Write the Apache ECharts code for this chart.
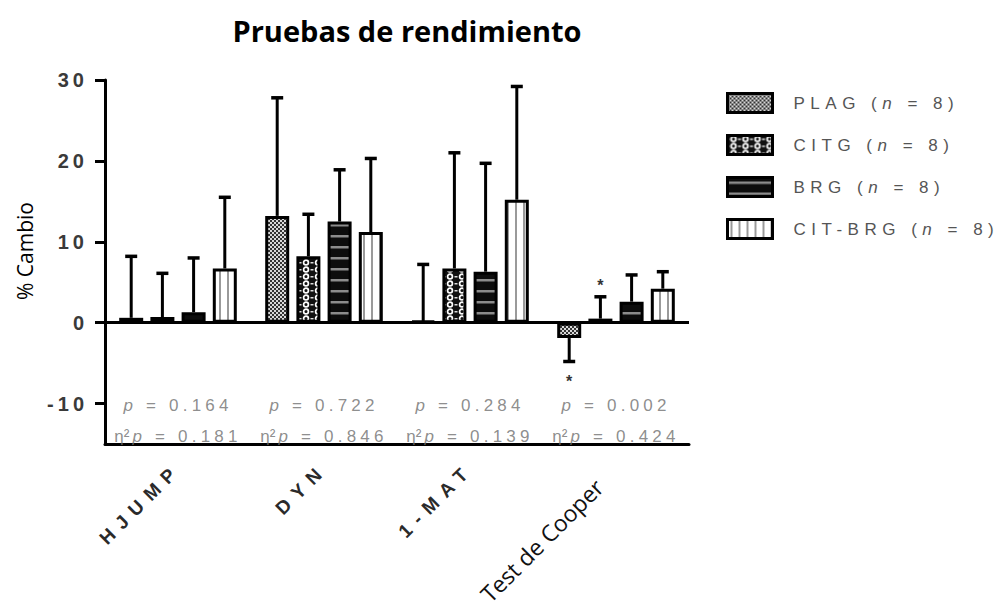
<!DOCTYPE html>
<html>
<head>
<meta charset="utf-8">
<script src="https://cdn.jsdelivr.net/npm/echarts@6/dist/echarts.min.js"></script>
<style>
  html, body { margin: 0; padding: 0; background: #fff; }
  #chart { width: 1002px; height: 613px; }
  #chart text { white-space: pre; }
  /* wide tracking for the Arial-style labels */
  #chart text[style*="Arial"][style*="20px"] { letter-spacing: 4px; }
  #chart text[style*="Arial"][style*="19px"] { letter-spacing: 8px; }
  #chart text[style*="Helvetica"] { letter-spacing: 5.5px; }
  #chart text[style*="Arimo"] { letter-spacing: 4.2px; }
</style>
</head>
<body>
<div id="chart"></div>
<script>
// ---- data -------------------------------------------------------------
const categories = ['HJUMP', 'DYN', '1-MAT', 'Test de Cooper'];
const groups = ['PLAG', 'CITG', 'BRG', 'CIT-BRG'];
const groupN = [8, 8, 8, 8];

// mean % change per test
const meanPLAG   = [0.6, 13.2, 0.2, -1.9];
const meanCITG   = [0.7,  8.2, 6.7,  0.5];
const meanBRG    = [1.3, 12.5, 6.3,  2.6];
const meanCITBRG = [6.7, 11.2, 15.2, 4.2];

// standard deviation per test
const sdPLAG   = [7.6, 14.6,  7.0, 2.9];
const sdCITG   = [5.4,  5.2, 14.3, 2.7];
const sdBRG    = [6.7,  6.4, 13.4, 3.3];
const sdCITBRG = [8.8,  9.1, 14.0, 2.1];

const pValues   = ['0.164', '0.722', '0.284', '0.002'];
const etaValues = ['0.181', '0.846', '0.139', '0.424'];

// [test index, group index] pairs marked with an asterisk
const significant = [[3, 0], [3, 1]];

const yTicks = [-10, 0, 10, 20, 30];

// ---- style constants ----------------------------------------------------
const BAR_W = 24, BAR_GAP = 0.3, BAR_STEP = BAR_W * (1 + BAR_GAP), CAP_W = 12;
const P_ROW = -10.2, ETA_ROW = -14.1;
const LS_LEG = 5.5, LS_ANN = 4.2;
const LEG_SIZE = 17, ANN_SIZE = 17;

const means = [meanPLAG, meanCITG, meanBRG, meanCITBRG];
const sds = [sdPLAG, sdCITG, sdBRG, sdCITBRG];

// ---- fill patterns ------------------------------------------------------
function tile(w, h, draw) {
  const c = document.createElement('canvas');
  c.width = w; c.height = h;
  draw(c.getContext('2d'), w, h);
  return c;
}
const tiles = [
  { c: tile(4, 4, g => { g.fillStyle = '#333'; g.fillRect(0, 0, 4, 4); g.fillStyle = '#d8d8d8'; g.fillRect(0, 0, 2, 2); g.fillRect(2, 2, 2, 2); }), ox: 0 },
  { c: tile(12, 7, g => {
      g.fillStyle = '#111'; g.fillRect(0, 0, 12, 7);
      g.strokeStyle = '#fff'; g.lineWidth = 1.7; g.beginPath(); g.arc(6, 3.5, 2.4, 0, Math.PI * 2); g.stroke();
      g.fillStyle = '#ddd'; g.fillRect(0, 3, 1.5, 1.5); g.fillRect(10.5, 3, 1.5, 1.5);
    }), ox: 6 },
  { c: tile(4, 11, g => { g.fillStyle = '#0d0d0d'; g.fillRect(0, 0, 4, 11); g.fillStyle = '#8c8c8c'; g.fillRect(0, 4, 4, 2.5); }), ox: 0 },
  { c: tile(8, 4, g => { g.fillStyle = '#fff'; g.fillRect(0, 0, 8, 4); g.fillStyle = '#9a9a9a'; g.fillRect(3, 0, 2, 4); }), ox: 4 }
];
function patternAt(gi, x) {
  const t = tiles[gi];
  return { image: t.c, repeat: 'repeat', imageWidth: t.c.width, imageHeight: t.c.height, x: x == null ? 0 : x + t.ox, y: 0 };
}

// ---- tracked rich-text helpers -----------------------------------------
const measureCtx = document.createElement('canvas').getContext('2d');
function spaceWidth(size) {
  measureCtx.font = size + 'px Liberation Sans';
  return measureCtx.measureText(' ').width;
}
// one left-anchored rich token whose width includes the letter spacing;
// a leading space becomes left padding so it cannot collapse
function tracked(rich, prefix, base, text, ls, padLeft) {
  let left = padLeft || 0;
  if (text.charAt(0) === ' ') {
    text = text.slice(1);
    left += spaceWidth(base.fontSize) + ls;
  }
  const key = prefix + text.length + 'p' + Math.round(left);
  if (!rich[key]) rich[key] = Object.assign({}, base, { align: 'left', padding: [0, text.length * ls, 0, left] });
  return '{' + key + '|' + text + '}';
}

const legRich = {};
const legBase = { fontFamily: 'Liberation Sans, Helvetica', fontSize: LEG_SIZE, lineHeight: 22, color: '#555' };
const legItal = Object.assign({}, legBase, { fontStyle: 'italic' });
const legendLabels = groups.map((g, i) =>
  tracked(legRich, 'a', legBase, g + ' (', LS_LEG, 16) +
  tracked(legRich, 'n', legItal, 'n', LS_LEG) +
  tracked(legRich, 'a', legBase, ' = ' + groupN[i] + ')', LS_LEG));

const annRich = {};
const annBase = { fontFamily: 'Liberation Sans, Arimo', fontSize: ANN_SIZE, lineHeight: 20, color: '#707070' };
const annItal = Object.assign({}, annBase, { fontStyle: 'italic' });
const annEta = Object.assign({}, annBase, { fontFamily: 'Liberation Sans' });
const pLabels = pValues.map(v =>
  tracked(annRich, 'i', annItal, 'p', LS_ANN) + tracked(annRich, 'r', annBase, ' = ' + v, LS_ANN));
const etaLabels = etaValues.map(v =>
  tracked(annRich, 'e', annEta, 'η²', 1.5) + tracked(annRich, 'i', annItal, 'p', LS_ANN) +
  tracked(annRich, 'r', annBase, ' = ' + v, LS_ANN));

// ---- series -------------------------------------------------------------
const errData = [];
groups.forEach((g, gi) => categories.forEach((c, ci) => errData.push([ci, gi, means[gi][ci], sds[gi][ci]])));
const isSig = (ci, gi) => significant.some(s => s[0] === ci && s[1] === gi);

function barSeries(barLefts) {
  return groups.map((g, gi) => ({
    name: g,
    type: 'bar',
    barWidth: BAR_W,
    barGap: (BAR_GAP * 100) + '%',
    z: 2,
    itemStyle: { color: patternAt(gi), borderColor: '#000', borderWidth: 3 },
    data: means[gi].map((v, ci) => barLefts
      ? { value: v, itemStyle: { color: patternAt(gi, barLefts[gi][ci]) } }
      : v)
  }));
}

const errorSeries = {
  type: 'custom',
  silent: true,
  z: 3,
  data: errData,
  encode: { x: 0, y: 2 },
  renderItem: (params, api) => {
    const ci = api.value(0), gi = api.value(1), m = api.value(2), sd = api.value(3);
    const end = m < 0 ? m - sd : m + sd;
    const p0 = api.coord([ci, m]);
    const p1 = api.coord([ci, end]);
    const x = p0[0] + (gi - (groups.length - 1) / 2) * BAR_STEP;
    const children = [
      { type: 'line', shape: { x1: x, y1: p0[1], x2: x, y2: p1[1] }, style: { stroke: '#000', lineWidth: 3 } },
      { type: 'line', shape: { x1: x - CAP_W / 2, y1: p1[1], x2: x + CAP_W / 2, y2: p1[1] }, style: { stroke: '#000', lineWidth: 3.5 } }
    ];
    if (isSig(ci, gi)) {
      children.push({
        type: 'text',
        style: { text: '*', x: x, y: p1[1] + (m < 0 ? 20 : -11), align: 'center', verticalAlign: 'middle',
                 fontFamily: 'Liberation Sans', fontWeight: 'bold', fontSize: 16, fill: '#333' }
      });
    }
    return { type: 'group', children };
  },
  markLine: {
    silent: true, symbol: 'none', label: { show: false },
    lineStyle: { color: '#000', width: 3, type: 'solid' },
    data: [{ yAxis: 0 }]
  }
};

// statistics printed under each test: p and partial eta squared
function statsRow(labels, row) {
  return {
    type: 'scatter',
    silent: true,
    symbolSize: 0,
    z: 4,
    data: labels.map((t, i) => ({ value: [i, row], label: { formatter: t } })),
    label: { show: true, position: 'inside', align: 'center', verticalAlign: 'middle', rich: annRich }
  };
}

const chart = echarts.init(document.getElementById('chart'), null, { renderer: 'svg' });

const option = {
  animation: false,
  backgroundColor: '#fff',
  graphic: [{
    type: 'text', x: 407, y: 30,
    style: { text: 'Pruebas de rendimiento', fontFamily: 'Open Sans', fontWeight: 'bold', fontSize: 29, fill: '#000',
             align: 'center', verticalAlign: 'middle' }
  }],
  legend: {
    orient: 'vertical',
    left: 726, top: 92,
    padding: 0,
    itemWidth: 45, itemHeight: 19, itemGap: 20,
    icon: 'rect',
    selectedMode: false,
    data: groups,
    itemStyle: { borderColor: '#000', borderWidth: 3 },
    formatter: name => legendLabels[groups.indexOf(name)],
    textStyle: { rich: legRich, color: '#555' }
  },
  grid: { left: 105, right: 313, top: 80, bottom: 169 },
  xAxis: {
    type: 'category',
    data: categories.map((c, i) => i === categories.length - 1
      ? { value: c, textStyle: { fontFamily: 'Open Sans', fontSize: 23, fontWeight: 'normal', color: '#111', padding: [26, 24, 0, 0] } }
      : c),
    axisLine: { onZero: false, lineStyle: { color: '#000', width: 3 } },
    axisTick: { alignWithLabel: true, length: 7, lineStyle: { color: '#000', width: 3 } },
    axisLabel: { interval: 0, rotate: 45, margin: 22, fontFamily: 'Liberation Sans, Arial', fontSize: 19,
                 fontWeight: 'bold', color: '#2a2a2a' },
    splitLine: { show: false }
  },
  yAxis: {
    type: 'value',
    min: -15, max: 30,
    name: '% Cambio',
    nameLocation: 'middle',
    nameRotate: 90,
    nameGap: 70,
    nameTextStyle: { fontFamily: 'Open Sans', fontSize: 21, color: '#000', padding: [0, 0, 0, 22] },
    axisLine: { show: true, lineStyle: { color: '#000', width: 3 } },
    axisTick: { show: true, customValues: yTicks, length: 10, lineStyle: { color: '#000', width: 3 } },
    axisLabel: { customValues: yTicks, margin: 17, fontFamily: 'Liberation Sans, Arial', fontSize: 20,
                 fontWeight: 'bold', color: '#3a3a3a' },
    splitLine: { show: false }
  },
  series: [...barSeries(null), errorSeries, statsRow(pLabels, P_ROW), statsRow(etaLabels, ETA_ROW)]
};

chart.setOption(option);

// align each bar's fill pattern with the bar's own left edge
const barLefts = groups.map((g, gi) => categories.map((c, ci) => {
  const p = chart.convertToPixel({ xAxisIndex: 0, yAxisIndex: 0 }, [ci, 0]);
  return p[0] + (gi - (groups.length - 1) / 2) * BAR_STEP - BAR_W / 2;
}));
chart.setOption({ series: [...barSeries(barLefts), errorSeries, statsRow(pLabels, P_ROW), statsRow(etaLabels, ETA_ROW)] });
</script>
</body>
</html>
